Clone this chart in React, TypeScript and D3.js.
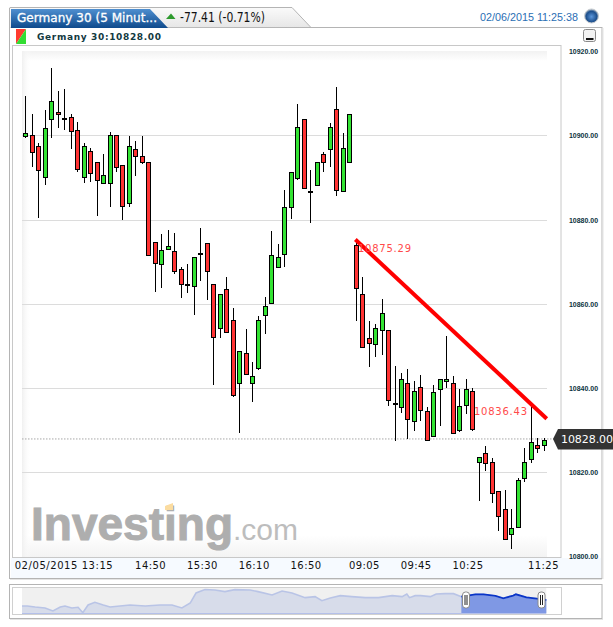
import React from "react";
import * as d3 from "d3";

const opens = [10899.9,10900.2,10897.4,10890.2,10904,10905.5,10903.8,10904.5,10901.4,10890.2,10896.2,10893.8,10888.8,10888.8,10900.2,10893.1,10884,10896.9,10895.2,10893.8,10874.8,10869.5,10873.1,10872.6,10868.3,10864.4,10864.3,10871.8,10874.5,10864.8,10854.3,10863.6,10856.2,10841.2,10848.3,10841.2,10844.8,10857.4,10860.2,10868.8,10871.9,10882.9,10889.8,10904,10886.6,10888.3,10895.5,10896.9,10906.4,10886.7,10893.8,10874,10862.4,10851.9,10850.5,10853.8,10853.8,10836.2,10835.5,10841.2,10832.1,10840.2,10834.5,10828.6,10839.8,10841.7,10841.2,10830,10836,10839.3,10822.4,10824.5,10822.4,10815.5,10811.2,10805.2,10806.9,10818.6,10823.1,10826.4,10826.4];
const closes = [10900.5,10896,10891.9,10901.7,10908.3,10905,10903.8,10901,10892.1,10897.4,10891,10889.5,10890.5,10900.2,10892.6,10883.3,10897.4,10895.2,10893.8,10871.7,10869.8,10872.9,10873.8,10867.9,10864.8,10864.4,10871.2,10871.8,10867.9,10852.1,10862.4,10853.3,10838.3,10848.8,10843.3,10842.9,10856.2,10859.5,10871.7,10871.2,10883.1,10891.2,10902.1,10887.6,10886.6,10893.8,10893.8,10901.9,10887.1,10897.1,10905.2,10863.8,10849.8,10850.7,10854.3,10857.9,10837.1,10836.2,10842.1,10832.6,10839.3,10834.8,10827.6,10839,10842.1,10842.1,10829.3,10835.7,10839.8,10830.2,10823.6,10822.1,10815,10809.5,10804,10806.7,10818.1,10822.4,10827.1,10825.7,10827.6];
const highs = [10909.4,10905,10898.2,10906,10916,10910.5,10911,10905,10903.3,10898.1,10897.1,10893.8,10895.7,10900.8,10900.2,10893.1,10899.8,10898.7,10899.8,10893.8,10874.8,10876.7,10877.6,10876.9,10868.8,10869.5,10871.2,10877.9,10874.5,10864.8,10862.4,10866.3,10859,10848.8,10854,10846.2,10857.2,10861.7,10877.4,10874.3,10887.1,10891.3,10907.4,10904,10891.9,10893.8,10896,10902.9,10911.4,10900.5,10905.2,10875.1,10866.3,10856,10855.2,10861.2,10853.8,10845.2,10843.6,10844.5,10841.7,10843.1,10835.5,10840.7,10842.1,10852.3,10842.8,10839.8,10842.1,10840.1,10823.6,10826.2,10823.3,10815.5,10815.7,10811.2,10818.6,10825.7,10835.7,10828.1,10828.1];
const lows = [10899.5,10892.4,10880.4,10888.2,10899.5,10901.7,10901.2,10896.9,10891.3,10888.8,10889,10880.9,10888.8,10882.9,10891.4,10879.9,10882.9,10890.4,10893.2,10871.7,10862.9,10863.8,10873.1,10867.2,10861.4,10862.6,10857.4,10865.3,10860.8,10840.8,10851.9,10853.3,10837.8,10829.3,10843.3,10836.7,10844.3,10852.9,10860.2,10868.8,10868.8,10880.2,10889.5,10887.6,10879.3,10888.3,10891.4,10892.4,10885.5,10886.7,10893.8,10856,10849.8,10845.1,10847.3,10847.8,10835.6,10827.3,10834,10827.8,10829.8,10832.2,10827.6,10828.6,10831,10840.1,10829.3,10829.5,10833.8,10829.7,10813.2,10820.2,10812.6,10806,10804,10801.7,10806.9,10817.6,10822.1,10824.5,10825];

const yTicks = [10920, 10900, 10880, 10860, 10840, 10820, 10800];
const gridTicks = [10900, 10880, 10860, 10840, 10820];
const xTickIndex = [19, 27, 35, 43, 52, 60, 68];
const xTickLabels = ["14:50", "15:30", "16:10", "16:50", "09:05", "09:45", "10:25"];
const firstLabel = "02/05/2015 13:15";
const lastLabel = "11:25";
const lastPrice = 10828;
const trendIndex = [50.95, 80.5];
const trendPrice = [10875.29, 10832.7];

const navPos = [0,1,2.5,4.4,5.9,7.3,8.2,9.5,10.7,11.6,12.6,13.9,15.5,16.8,18.7,20.6,23.5,26.3,28.6,30.5,32.1,33.2,34.9,36.8,38.7,40.6,43.5,45,47.7,49.6,51.5,54,55.9,57.2,58.8,60.7,62.9,65.5,68,70.6,72.5,73.4,73.9,75,76,77.9,79,80.7,82.3,83.8,86.5,88,90.3,91.8,93.7,94.2,96.2,98.1,100];
const navValue = [10670,10670,10655,10640,10595,10655,10670,10640,10650,10570,10685,10725,10685,10655,10670,10685,10670,10685,10685,10640,10715,10865,10917,10910,10885,10915,10910,10885,10835,10895,10865,10795,10810,10750,10790,10825,10810,10795,10795,10825,10810,10850,10795,10825,10825,10810,10850,10855,10855,10810,10845,10845,10820,10785,10825,10845,10800,10780,10760];
const navSelectFrom = 83.8;

const x = d3.scaleLinear().domain([0, 80]).range([25.3, 543.5]);
const y = d3.scaleLinear().domain([10800, 10920]).range([556.3, 51.3]);
const nx = d3.scaleLinear().domain([0, 100]).range([22, 546.3]);
const ny = d3.scaleLinear().domain([10550, 10950]).range([614, 587.3]);

const navLine = d3.line<number>().x((_, i) => nx(navPos[i])).y((d) => ny(d));
const navArea = d3.area<number>().x((_, i) => nx(navPos[i])).y0(613).y1((d) => ny(d));

const RED = "#ff3333";
const GREEN = "#33e333";
const sans = "'Liberation Sans', Arial, sans-serif";
const dejavu = "'DejaVu Sans', sans-serif";

function Handle({ px }: { px: number }) {
  return (
    <g>
      <rect x={px - 3.5} y={592} width={7} height={16} rx={3} fill="#fff" stroke="#8a8a8a" />
      <line x1={px - 1} x2={px - 1} y1={595} y2={605} stroke="#222" />
      <line x1={px + 1} x2={px + 1} y1={595} y2={605} stroke="#222" />
    </g>
  );
}

export default function App() {
  const trendPts = trendIndex.map((t, i) => [x(t), y(trendPrice[i])]);
  const selFrom = navPos.findIndex((p) => p >= navSelectFrom);
  const selValues = navValue.slice(selFrom);
  const selArea = d3.area<number>().x((_, i) => nx(navPos[i + selFrom])).y0(613.5).y1((d) => ny(d));
  const selLine = d3.line<number>().x((_, i) => nx(navPos[i + selFrom])).y((d) => ny(d));
  return (
    <svg width={613} height={627} style={{ position: "absolute", left: 0, top: 0, background: "#fff" }}>
      <defs>
        <linearGradient id="tabBlue" x1="0" y1="0" x2="0" y2="1">
          <stop offset="0" stopColor="#4f8fd0" />
          <stop offset="1" stopColor="#0e4a8c" />
        </linearGradient>
        <linearGradient id="tabGrey" x1="0" y1="0" x2="0" y2="1">
          <stop offset="0" stopColor="#fafafa" />
          <stop offset="1" stopColor="#e6e6e6" />
        </linearGradient>
        <linearGradient id="fadeTop" x1="0" y1="0" x2="0" y2="1">
          <stop offset="0" stopColor="#f2f2f2" />
          <stop offset="1" stopColor="#fff" />
        </linearGradient>
        <linearGradient id="fadeBottom" x1="0" y1="0" x2="0" y2="1">
          <stop offset="0" stopColor="#fff" />
          <stop offset="1" stopColor="#f3f3f3" />
        </linearGradient>
        <linearGradient id="fadeLeft" x1="0" y1="0" x2="1" y2="0">
          <stop offset="0" stopColor="#f0f0f0" />
          <stop offset="1" stopColor="#fff" stopOpacity="0" />
        </linearGradient>
        <radialGradient id="ball" cx="0.5" cy="0.55" r="0.55">
          <stop offset="0" stopColor="#5c97dc" />
          <stop offset="0.7" stopColor="#1d4f8c" />
          <stop offset="1" stopColor="#b8c2cc" />
        </radialGradient>
        <clipPath id="plotClip"><rect x={22} y={46} width={525} height={511} /></clipPath>
      </defs>

      {/* main frame and tab */}
      <rect x={9.5} y={27.5} width={592.5} height={551} fill="#fff" stroke="#b4b4b4" />
      <line x1={10} x2={602} y1={579.5} y2={579.5} stroke="#e4e4e4" />
      <line x1={603} x2={603} y1={28} y2={579} stroke="#e4e4e4" />
      <path d="M9.5 28 V8 Q9.5 7.5 11 7.5 H292 L311 27.5 L10 28 Z" fill="url(#tabGrey)" stroke="#b4b4b4" />
      <path d="M11 9 H150 L168 28 H11 Z" fill="url(#tabBlue)" />
      <rect x={10} y={28} width={301} height={1} fill="#fff" />
      <text x={17} y={22} fontFamily={dejavu} fontSize={12} fill="#fff" stroke="#fff" strokeWidth={0.3} textLength={140} lengthAdjust="spacingAndGlyphs">Germany 30 (5 Minut...</text>
      <path d="M166 19 L171 13.5 L175.5 19 Z" fill="#2e9a2e" />
      <text x={180} y={22} fontFamily={dejavu} fontSize={13.5} fill="#111" textLength={85} lengthAdjust="spacingAndGlyphs">-77.41 (-0.71%)</text>
      <text x={480} y={21} fontFamily={sans} fontSize={11.5} fill="#2a6eb4" textLength={98} lengthAdjust="spacingAndGlyphs">02/06/2015 11:25:38</text>
      <circle cx={591.5} cy={16} r={7} fill="url(#ball)" stroke="#c4c9ce" />

      {/* legend row */}
      <path d="M16 29 H26 L16 44 Z" fill="#ff3b2f" />
      <path d="M26 29 V44 H16 Z" fill="#33dd33" />
      <text x={37} y={40} fontFamily={dejavu} fontWeight={700} fontSize={9} fill="#12393f" textLength={124} lengthAdjust="spacing">Germany 30:10828.00</text>
      <rect x={583.5} y={29.5} width={12} height={12} rx={2} fill="#f2f2f2" stroke="#8a8a8a" />
      <rect x={586} y={38} width={7.5} height={2} fill="#111" />

      {/* plot box */}
      <rect x={12.5} y={45.5} width={548.5} height={512} fill="#fff" stroke="#c8c8c8" />
      <rect x={22} y={51} width={525} height={10} fill="url(#fadeTop)" />
      <rect x={22} y={535} width={525} height={22} fill="url(#fadeBottom)" />
      <rect x={22} y={51} width={9} height={506} fill="url(#fadeLeft)" />
      <rect x={11} y={558} width={590} height={20} fill="#f6faff" />

      {/* watermark */}
      <text x={31} y={540} fontFamily={sans} fontWeight={700} fontSize={47} fill="#aeaeae" stroke="#aeaeae" strokeWidth={1} textLength={202} lengthAdjust="spacingAndGlyphs">Investing</text>
      <path d="M165 506 L173 503 V510 H165 Z" fill="#fbdca0" />
      <text x={233} y={540} fontFamily={sans} fontSize={30} fill="#bdbdbd">.com</text>

      {/* grid */}
      {gridTicks.map((t) => (
        <line key={t} x1={22} x2={547} y1={Math.round(y(t)) + 0.5} y2={Math.round(y(t)) + 0.5} stroke="#dcdcdc" />
      ))}
      <line x1={22} x2={556} y1={y(lastPrice) + 0.5} y2={y(lastPrice) + 0.5} stroke="#a8a8a8" strokeDasharray="1.5 1.5" />

      {/* candles */}
      <g clipPath="url(#plotClip)">
        {opens.map((o, i) => {
          const c = closes[i];
          const cx = Math.round(x(i)) + 0.5;
          const top = Math.round(y(Math.max(o, c)));
          const bot = Math.round(y(Math.min(o, c)));
          const doji = o === c;
          return (
            <g key={i} shapeRendering="crispEdges">
              <line x1={cx} x2={cx} y1={y(highs[i])} y2={y(lows[i])} stroke="#000" strokeWidth={1} />
              {doji ? (
                <rect x={cx - 2.5} y={top - 1} width={5} height={2} fill="#000" />
              ) : (
                <rect x={cx - 2} y={top + 0.5} width={4} height={Math.max(bot - top, 1)} fill={c > o ? GREEN : RED} stroke="#000" strokeWidth={1} />
              )}
            </g>
          );
        })}
      </g>

      {/* trend line */}
      <line x1={trendPts[0][0]} y1={trendPts[0][1]} x2={trendPts[1][0]} y2={trendPts[1][1]} stroke="#ff0000" strokeWidth={4} />
      <text x={358} y={252} fontFamily={dejavu} fontSize={10} fill="#ff4a4a" textLength={53}>10875.29</text>
      <text x={474} y={415} fontFamily={dejavu} fontSize={10} fill="#ff4a4a" textLength={53}>10836.43</text>

      {/* y labels */}
      {yTicks.map((t) => (
        <text key={t} x={569} y={y(t) + 3} fontFamily={sans} fontWeight={700} fontSize={8} fill="#0b3340" textLength={29} lengthAdjust="spacingAndGlyphs">{t.toFixed(2)}</text>
      ))}

      {/* last price tag */}
      <path d="M553 439 L558 429 H613 V449.5 H558 Z" fill="#333" />
      <text x={561} y={443} fontFamily={dejavu} fontSize={11} fill="#fff" textLength={52}>{lastPrice.toFixed(2)}</text>

      {/* x labels */}
      <text x={14.7} y={569} fontFamily={dejavu} fontSize={10} fill="#111" textLength={98}>{firstLabel}</text>
      {xTickIndex.map((t, i) => (
        <text key={t} x={x(t) + 2} y={569} textAnchor="middle" fontFamily={dejavu} fontSize={10} fill="#111" textLength={30.5}>{xTickLabels[i]}</text>
      ))}
      <text x={558.5} y={569} textAnchor="end" fontFamily={dejavu} fontSize={10} fill="#111" textLength={30.5}>{lastLabel}</text>

      {/* navigator */}
      <rect x={9.5} y={584.5} width={592.5} height={34} fill="#fff" stroke="#b4b4b4" />
      <line x1={10} x2={603} y1={619.5} y2={619.5} stroke="#e4e4e4" />
      <rect x={12.5} y={587.5} width={549} height={27} fill="#fff" stroke="#d0d0d0" />
      <rect x={22} y={588} width={524.3} height={26} fill="#f0f0f0" />
      <path d={navArea(navValue) || ""} fill="#d7dcea" />
      <path d={selArea(selValues) || ""} fill="#7f98e4" />
      <path d={navLine(navValue) || ""} fill="none" stroke="#b9c4e6" strokeWidth={1.6} />
      <path d={selLine(selValues) || ""} fill="none" stroke="#0a35c8" strokeWidth={1.8} />
      <line x1={22} x2={546} y1={613.5} y2={613.5} stroke="#b4c0ea" />
      <Handle px={466} />
      <Handle px={541.5} />
    </svg>
  );
}
